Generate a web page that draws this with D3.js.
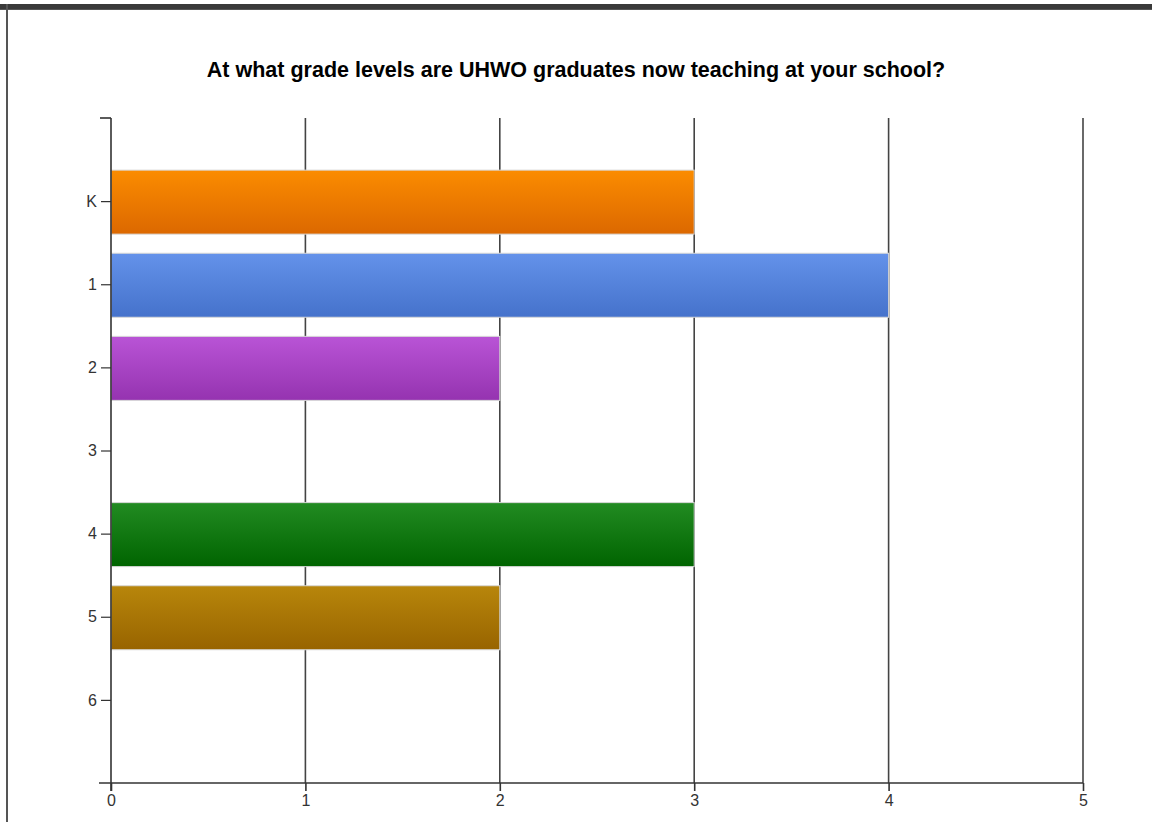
<!DOCTYPE html>
<html>
<head>
<meta charset="utf-8">
<script src="https://cdn.jsdelivr.net/npm/d3@7"></script>
<style>
  html, body { margin: 0; padding: 0; background: #fff; }
  svg { display: block; }
</style>
</head>
<body>
<svg id="chart" width="1152" height="822"></svg>
<script>
const categories = ["K", "1", "2", "3", "4", "5", "6"];
const counts = [3, 4, 2, 0, 3, 2, 0];
const xTicks = [0, 1, 2, 3, 4, 5];
const topColors = ["#fb8c00", "#6492ea", "#b954d6", "#888888", "#228b22", "#b8860b", "#888888"];
const bottomColors = ["#dc6800", "#4572cb", "#9533b0", "#666666", "#006400", "#986400", "#666666"];
const title = "At what grade levels are UHWO graduates now teaching at your school?";

const svg = d3.select("#chart");
const W = 1152, H = 822;
const margin = { left: 111, right: 1083, top: 118, bottom: 783 };
const font = "Arial, 'Liberation Sans', sans-serif";

// frame
svg.append("rect").attr("x", 0).attr("y", 4).attr("width", W).attr("height", 6).attr("fill", "#3a3a3a");
svg.append("rect").attr("x", 0).attr("y", 9).attr("width", W).attr("height", 1).attr("fill", "#555");
svg.append("rect").attr("x", 6).attr("y", 4).attr("width", 2).attr("height", H).attr("fill", "#555");

const x = d3.scaleLinear().domain([0, 5]).range([margin.left, margin.right]);
const y = d3.scalePoint().domain(categories).range([margin.top, margin.bottom]).padding(1);
const bh = 64;

// gradients
const defs = svg.append("defs");
categories.forEach((c, i) => {
  const g = defs.append("linearGradient").attr("id", "g" + i).attr("x1", 0).attr("y1", 0).attr("x2", 0).attr("y2", 1);
  g.append("stop").attr("offset", "0%").attr("stop-color", topColors[i]);
  g.append("stop").attr("offset", "100%").attr("stop-color", bottomColors[i]);
});

// vertical gridlines
svg.append("g").selectAll("line").data(xTicks.filter(d => d > 0)).join("line")
  .attr("x1", d => x(d)).attr("x2", d => x(d))
  .attr("y1", margin.top).attr("y2", margin.bottom)
  .attr("stroke", "#444").attr("stroke-width", 1.6);

// bars
svg.append("g").selectAll("rect").data(categories.map((c, i) => ({ c, v: counts[i], i })).filter(d => d.v > 0)).join("rect")
  .attr("x", x(0))
  .attr("y", d => y(d.c) - bh / 2 + 1)
  .attr("width", d => x(d.v) - x(0))
  .attr("height", bh)
  .attr("fill", d => `url(#g${d.i})`)
  .attr("stroke", "#d8d8d8").attr("stroke-width", 1);

// y axis
const yAxis = d3.axisLeft(y).tickSize(10).tickPadding(4);
const gy = svg.append("g").attr("transform", `translate(${margin.left},0)`).call(yAxis);
gy.attr("font-size", 16).attr("font-family", font);
gy.select(".domain").remove();
gy.append("line").attr("x1", 0).attr("x2", 0).attr("y1", margin.top).attr("y2", margin.bottom + 8)
  .attr("stroke", "#333").attr("stroke-width", 1.6);
gy.append("line").attr("x1", -11).attr("x2", 0).attr("y1", margin.top).attr("y2", margin.top)
  .attr("stroke", "#333").attr("stroke-width", 1.6);
gy.selectAll(".tick line").attr("stroke", "#333").attr("stroke-width", 1.2);
gy.selectAll(".tick text").attr("fill", "#333");

// x axis
const xAxis = d3.axisBottom(x).tickValues(xTicks).tickFormat(d3.format("d")).tickSize(8).tickPadding(4);
const gx = svg.append("g").attr("transform", `translate(0,${margin.bottom})`).call(xAxis);
gx.attr("font-size", 16).attr("font-family", font);
gx.select(".domain").remove();
gx.append("line").attr("x1", margin.left - 12).attr("x2", margin.right).attr("y1", 0).attr("y2", 0)
  .attr("stroke", "#333").attr("stroke-width", 1.6);
gx.selectAll(".tick line").attr("stroke", "#333").attr("stroke-width", 1.6);
gx.selectAll(".tick text").attr("fill", "#333");

// title
svg.append("text").attr("x", 576).attr("y", 77).attr("text-anchor", "middle")
  .attr("font-family", font).attr("font-size", 21.5).attr("font-weight", "bold")
  .attr("fill", "#000").text(title);
</script>
</body>
</html>
